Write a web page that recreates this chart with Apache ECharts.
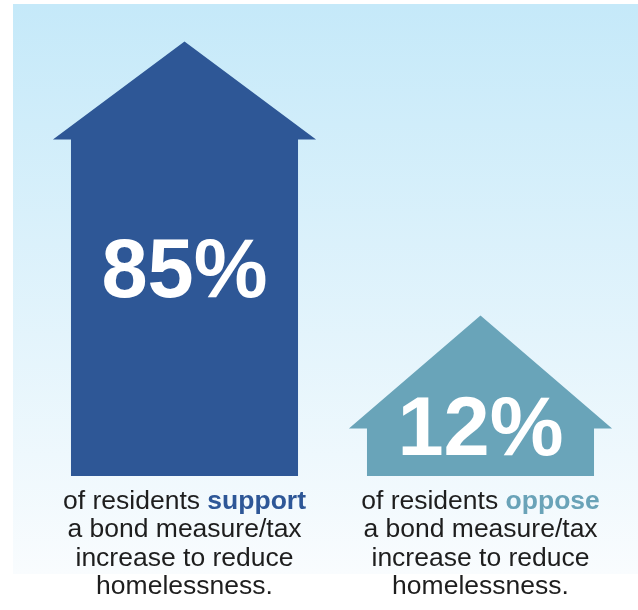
<!DOCTYPE html>
<html>
<head>
<meta charset="utf-8">
<script src="https://cdn.jsdelivr.net/npm/echarts@6/dist/echarts.min.js"></script>
<style>
html,body{margin:0;padding:0;background:#fff;}
#chart{width:638px;height:610px;}
</style>
</head>
<body>
<div id="chart"></div>
<script>
// ---- data ----
const categories = ['support', 'oppose'];
const values = [85, 12];
const captionLead = 'of residents ';
const captionRest = ['a bond measure/tax', 'increase to reduce', 'homelessness.'];

// ---- styles ----
const houseColors = ['#2e5796', '#69a4b9'];
const roofHeights = [98, 113];
const labelOffsets = [135, 4];
const FONT = '"Liberation Sans", Arial, Helvetica, sans-serif';

const chart = echarts.init(document.getElementById('chart'));

chart.setOption({
  animation: false,
  graphic: [{
    type: 'rect',
    z: -10,
    silent: true,
    shape: { x: 13, y: 4, width: 625, height: 570 },
    style: {
      fill: new echarts.graphic.LinearGradient(0, 0, 0, 1, [
        { offset: 0, color: '#c5e9f9' },
        { offset: 1, color: '#f9fcfe' }
      ])
    }
  }],
  grid: { left: 36.5, right: 9.5, top: 80, bottom: 134 },
  xAxis: {
    type: 'category',
    data: categories,
    axisLine: { show: false },
    axisTick: { show: false },
    splitLine: { show: false },
    axisLabel: {
      margin: 11,
      interval: 0,
      formatter: function (name, idx) {
        const key = idx === 0 ? 's' : 'o';
        return '{a|' + captionLead + '}{' + key + '|' + name + '}\n' +
          captionRest.map(function (t) { return '{a|' + t + '}'; }).join('\n');
      },
      rich: {
        a: { fontFamily: FONT, fontSize: 26.5, color: '#1e1e1e', lineHeight: 28.5, align: 'center' },
        s: { fontFamily: FONT, fontSize: 26.5, fontWeight: 'bold', color: '#2e5797', lineHeight: 28.5, align: 'center' },
        o: { fontFamily: FONT, fontSize: 26.5, fontWeight: 'bold', color: '#6aa3b8', lineHeight: 28.5, align: 'center' }
      }
    }
  },
  yAxis: { type: 'value', min: 0, max: 100, show: false },
  series: [{
    type: 'custom',
    z: 2,
    data: values.map(function (v, i) { return [i, v]; }),
    renderItem: function (params, api) {
      const i = api.value(0);
      const v = api.value(1);
      const base = api.coord([i, 0]);
      const top = api.coord([i, v]);
      const band = api.size([1, 0])[0];
      const bodyW = band * 0.767;
      const roofW = band * 0.889;
      const cx = base[0];
      const rh = roofHeights[params.dataIndex];
      return {
        type: 'group',
        children: [{
          type: 'polygon',
          shape: {
            points: [
              [cx - bodyW / 2, base[1]],
              [cx - bodyW / 2, top[1]],
              [cx - roofW / 2, top[1]],
              [cx, top[1] - rh],
              [cx + roofW / 2, top[1]],
              [cx + bodyW / 2, top[1]],
              [cx + bodyW / 2, base[1]]
            ]
          },
          style: { fill: houseColors[params.dataIndex] }
        }, {
          type: 'text',
          style: {
            x: cx,
            y: top[1] + labelOffsets[params.dataIndex],
            text: values[params.dataIndex] + '%',
            fill: '#ffffff',
            font: 'bold 83px ' + FONT,
            align: 'center',
            verticalAlign: 'middle'
          }
        }]
      };
    }
  }]
});
</script>
</body>
</html>
